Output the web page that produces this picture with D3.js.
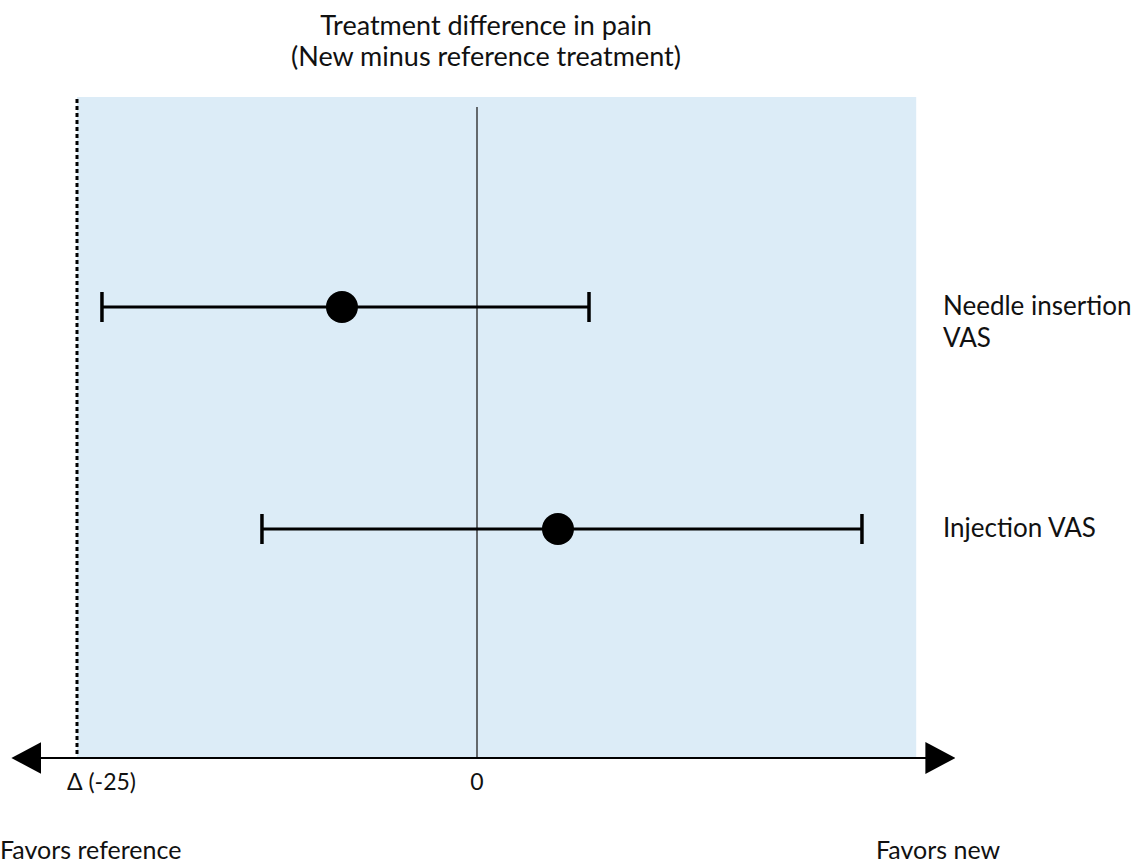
<!DOCTYPE html>
<html>
<head>
<meta charset="utf-8">
<script src="https://cdn.jsdelivr.net/npm/d3@7"></script>
<style>
  body { margin: 0; background: white; }
  text { font-family: Lato, "Open Sans", sans-serif; fill: #111; }
</style>
</head>
<body>
<div id="container"></div>
<script>
//Chart data.
var rowLabels = [["Needle insertion", "VAS"], ["Injection VAS"]];
var estimates = [-8.44, 5.06];
var lowerCI = [-23.44, -13.44];
var upperCI = [7.0, 24.06];
var deltaMargin = -25;
var tickValues = [-25, 0];
var tickLabels = ["\u0394 (-25)", "0"];
var shadedRange = [-25, 27.45];
var axisRange = [-29.1, 29.9];
var titleLines = ["Treatment difference in pain", "(New minus reference treatment)"];
var sideLabels = ["Favors reference", "Favors new"];

//Svg Initialization
var w = 1141;
var h = 865;
var svg = d3.select("div#container").append("svg")
    .attr("width", w)
    .attr("height", h)
    .style("display", "block");

//x scale: treatment difference -> pixels
var x = d3.scaleLinear()
    .domain([-25, 0])
    .range([77, 477]);

//y scale: one row per outcome
var y = d3.scalePoint()
    .domain(d3.range(rowLabels.length))
    .range([307, 529]);

var axisY = 758;
var plotTop = 97;

//arrow head marker for both ends of the axis
svg.append("defs").append("marker")
    .attr("id", "arrow")
    .attr("markerUnits", "userSpaceOnUse")
    .attr("viewBox", "0 0 30 32")
    .attr("refX", 2)
    .attr("refY", 16)
    .attr("markerWidth", 30)
    .attr("markerHeight", 32)
    .attr("orient", "auto-start-reverse")
  .append("path")
    .attr("d", "M0,0 L30,16 L0,32 Z")
    .attr("fill", "#000");

//light blue shaded region
svg.append("rect")
    .attr("x", x(shadedRange[0]))
    .attr("y", plotTop)
    .attr("width", x(shadedRange[1]) - x(shadedRange[0]))
    .attr("height", axisY - plotTop)
    .attr("fill", "#dcecf7");

//zero line
svg.append("line")
    .attr("x1", x(0)).attr("x2", x(0))
    .attr("y1", plotTop + 10).attr("y2", axisY)
    .attr("stroke", "#222")
    .attr("stroke-width", 1.3);

//non-inferiority margin (dashed)
svg.append("line")
    .attr("x1", x(deltaMargin)).attr("x2", x(deltaMargin))
    .attr("y1", plotTop + 2).attr("y2", axisY)
    .attr("stroke", "#000")
    .attr("stroke-width", 3)
    .attr("stroke-dasharray", "4,3");

//axis line with arrows
svg.append("line")
    .attr("x1", x(axisRange[0]) + 28).attr("x2", x(axisRange[1]) - 28)
    .attr("y1", axisY).attr("y2", axisY)
    .attr("stroke", "#000")
    .attr("stroke-width", 2)
    .attr("marker-start", "url(#arrow)")
    .attr("marker-end", "url(#arrow)");

//tick labels
svg.selectAll("text.tick")
  .data(tickValues)
  .enter().append("text")
    .attr("class", "tick")
    .attr("x", function(d, i) { return i === 0 ? x(d) - 10 : x(d); })
    .attr("y", 790)
    .attr("text-anchor", function(d, i) { return i === 0 ? "start" : "middle"; })
    .attr("font-size", 23)
    .text(function(d, i) { return tickLabels[i]; });

//confidence intervals
var rows = svg.append("g").selectAll("g")
  .data(estimates)
  .enter().append("g");

rows.append("line")
    .attr("x1", function(d, i) { return x(lowerCI[i]); })
    .attr("x2", function(d, i) { return x(upperCI[i]); })
    .attr("y1", function(d, i) { return y(i); })
    .attr("y2", function(d, i) { return y(i); })
    .attr("stroke", "#000")
    .attr("stroke-width", 3.2);

[lowerCI, upperCI].forEach(function(arr) {
  rows.append("line")
      .attr("x1", function(d, i) { return x(arr[i]); })
      .attr("x2", function(d, i) { return x(arr[i]); })
      .attr("y1", function(d, i) { return y(i) - 15; })
      .attr("y2", function(d, i) { return y(i) + 15; })
      .attr("stroke", "#000")
      .attr("stroke-width", 3.5);
});

rows.append("circle")
    .attr("cx", function(d) { return x(d); })
    .attr("cy", function(d, i) { return y(i); })
    .attr("r", 16)
    .attr("fill", "#000");

//row labels on the right
rows.append("text")
    .attr("x", 943)
    .attr("y", function(d, i) { return y(i) + 8; })
    .attr("font-size", 26)
    .selectAll("tspan")
    .data(function(d, i) { return rowLabels[i]; })
    .enter().append("tspan")
      .attr("x", 943)
      .attr("dy", function(d, j) { return j === 0 ? 0 : 32; })
      .text(function(d) { return d; });

//title
svg.selectAll("text.title")
  .data(titleLines)
  .enter().append("text")
    .attr("class", "title")
    .attr("x", 486)
    .attr("y", function(d, i) { return 35 + i * 31; })
    .attr("text-anchor", "middle")
    .attr("font-size", 27)
    .text(function(d) { return d; });

//favors labels
svg.selectAll("text.side")
  .data(sideLabels)
  .enter().append("text")
    .attr("class", "side")
    .attr("x", function(d, i) { return i === 0 ? 0 : 876; })
    .attr("y", 859)
    .attr("font-size", 25)
    .text(function(d) { return d; });
</script>
</body>
</html>
